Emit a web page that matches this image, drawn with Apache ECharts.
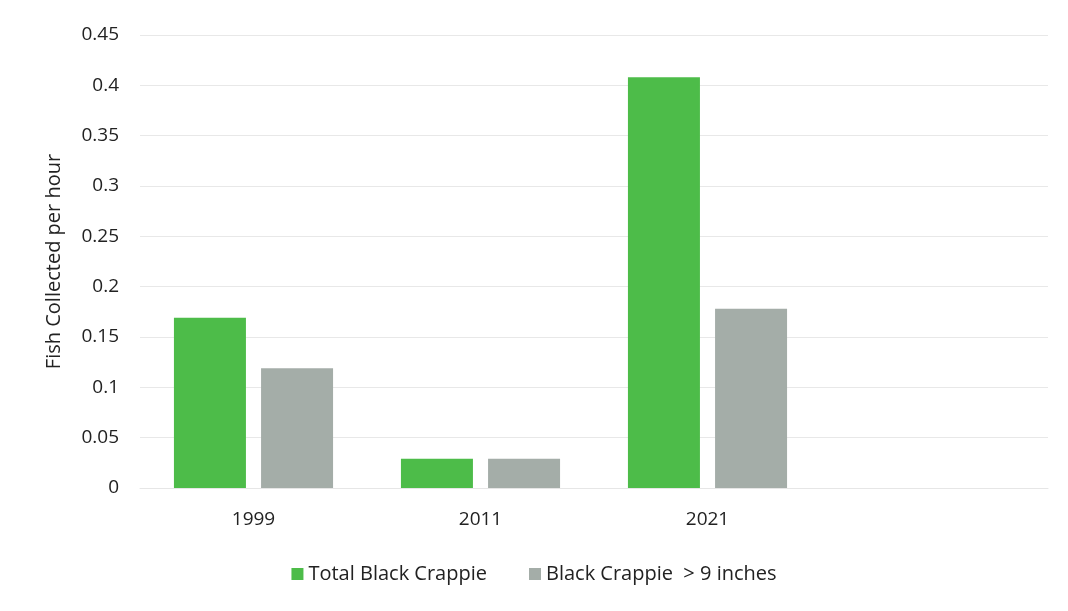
<!DOCTYPE html>
<html>
<head>
<meta charset="utf-8">
<script src="https://cdn.jsdelivr.net/npm/echarts@6/dist/echarts.min.js"></script>
<style>
html,body{margin:0;padding:0;background:#fff;}
#chart{width:1068px;height:611px;}
</style>
</head>
<body>
<div id="chart"></div>
<script>
const categories = ['1999', '2011', '2021', ''];
const totalBlackCrappie = [0.169, 0.029, 0.408, null];
const blackCrappieOver9 = [0.119, 0.029, 0.178, null];
const seriesNames = ['Total Black Crappie', 'Black Crappie  > 9 inches'];
const yAxisName = 'Fish Collected per hour';

const FONT = '"Open Sans", "Noto Sans", sans-serif';
const chart = echarts.init(document.getElementById('chart'));
chart.setOption({
  backgroundColor: '#ffffff',
  animation: false,
  textStyle: { fontFamily: FONT },
  grid: { left: 140, right: 20, top: 35, bottom: 123, containLabel: false },
  legend: {
    data: seriesNames,
    bottom: 22,
    left: 'center',
    itemWidth: 12,
    itemHeight: 12,
    itemGap: 42,
    icon: 'rect',
    textStyle: { fontFamily: FONT, fontSize: 20, color: '#222' }
  },
  xAxis: {
    type: 'category',
    data: categories,
    axisLine: { show: true, lineStyle: { color: '#e6e6e6' } },
    axisTick: { show: false },
    axisLabel: { fontFamily: FONT, fontSize: 19, color: '#222', margin: 22 }
  },
  yAxis: {
    type: 'value',
    min: 0,
    max: 0.45,
    interval: 0.05,
    name: yAxisName,
    nameLocation: 'middle',
    nameGap: 76,
    nameRotate: 90,
    nameTextStyle: { fontFamily: FONT, fontSize: 20, color: '#222' },
    axisLine: { show: false },
    axisTick: { show: false },
    axisLabel: {
      fontFamily: FONT, fontSize: 19, color: '#222', margin: 21,
      formatter: v => String(parseFloat(v.toFixed(2)))
    },
    splitLine: { lineStyle: { color: '#e8e8e8', width: 1 } }
  },
  series: [
    {
      name: seriesNames[0],
      type: 'bar',
      data: totalBlackCrappie,
      barWidth: 72,
      barGap: '21%',
      itemStyle: { color: '#4dbc49' }
    },
    {
      name: seriesNames[1],
      type: 'bar',
      data: blackCrappieOver9,
      barWidth: 72,
      itemStyle: { color: '#a4ada8' }
    }
  ]
});
</script>
</body>
</html>
